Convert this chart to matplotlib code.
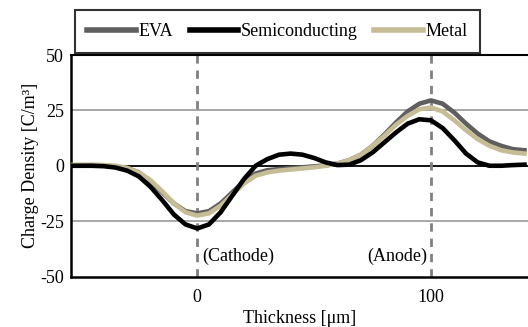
import matplotlib
matplotlib.use("Agg")
import matplotlib.pyplot as plt

plt.rcParams['font.family'] = ['Liberation Serif', 'DejaVu Serif']

# thickness positions [um]
thickness = [-55, -50, -45, -40, -35, -30, -25, -20, -15, -10, -5, 0, 5, 10, 15, 20,
             25, 30, 35, 40, 45, 50, 55, 60, 65, 70, 75, 80, 85, 90, 95, 100,
             105, 110, 115, 120, 125, 130, 135, 140]

eva = [0, 0, 0, 0, -0.3, -1, -3, -7, -12, -17, -20.5, -21.5, -20.5, -17, -12, -7,
       -3.5, -2, -1.5, -1, -0.7, -0.3, 0.2, 1, 2.5, 5, 9, 14, 19.5, 24.5, 28, 29.5,
       28, 24, 19, 14.5, 11, 9, 7.5, 7]

semi = [0, 0, 0, -0.2, -0.8, -2.2, -4.8, -9.5, -15.5, -22, -26.5, -28.3, -26.5, -21, -13.5, -6,
        0, 3, 5, 5.5, 5, 3.5, 1.5, 0.3, 0.5, 2.5, 6, 10.5, 15, 19, 21, 20.5,
        17, 11.5, 5.5, 1.5, 0, 0, 0.3, 0.5]

metal = [0.3, 0.5, 0.5, 0.3, 0, -1, -3, -6.5, -11.5, -17, -21, -22.5, -21.5, -18, -13, -8,
         -4.5, -3, -2.2, -1.7, -1.2, -0.7, 0, 1, 2.5, 5, 9, 13.5, 18.5, 22.5, 25.5, 26.3,
         24.5, 20.5, 16, 12, 9, 7, 6, 5.5]

yticks = [-50, -25, 0, 25, 50]
xticks = [0, 100]

fig = plt.figure(figsize=(5.28, 3.27), dpi=100)
ax = fig.add_axes([0.1345, 0.1544, 0.8655, 0.6774])

# grid lines and electrode markers
for y in [-25, 25]:
    ax.axhline(y, color='#a0a0a0', lw=1.3, zorder=1)
ax.axhline(0, color='black', lw=1.3, zorder=1)
for x in xticks:
    ax.axvline(x, color='#808080', lw=2, ls=(0, (3, 2.5)), zorder=1)

ax.plot(thickness, eva, color='#5f5f5f', lw=3.3, label='EVA', zorder=3, solid_joinstyle='round')
ax.plot(thickness, semi, color='black', lw=3.3, label='Semiconducting', zorder=4, solid_joinstyle='round')
ax.plot(thickness, metal, color='#c6bd96', lw=3.3, label='Metal', zorder=3, solid_joinstyle='round')

ax.set_xlim(-54, 141.5)
ax.set_ylim(-50, 50)
ax.set_xticks(xticks)
ax.set_yticks(yticks)
ax.set_yticklabels([str(v) for v in yticks])
ax.tick_params(length=0, labelsize=13, pad=9)
ax.tick_params(axis='y', pad=5)

for side in ['left', 'bottom']:
    ax.spines[side].set_linewidth(1.8)
ax.spines['top'].set_linewidth(1.5)
ax.spines['right'].set_visible(False)

ax.text(2, -41, '(Cathode)', fontsize=13, va='center', ha='left')
ax.text(98.5, -41, '(Anode)', fontsize=13, va='center', ha='right')

ax.set_xlabel('Thickness [\u03bcm]', fontsize=13, labelpad=3)
ax.set_ylabel('Charge Density [C/m\u00b3]', fontsize=13, labelpad=1)

leg = fig.legend(loc='center', bbox_to_anchor=(277.5 / 528, 1 - 31.5 / 327), ncol=3,
                 fontsize=13, frameon=True, fancybox=False, edgecolor='black',
                 handlelength=2.7, handletextpad=0.15, columnspacing=0.9,
                 borderpad=0.7)
leg.get_frame().set_linewidth(1.5)
for line in leg.get_lines():
    line.set_linewidth(4)

fig.savefig('out.png', dpi=100)
